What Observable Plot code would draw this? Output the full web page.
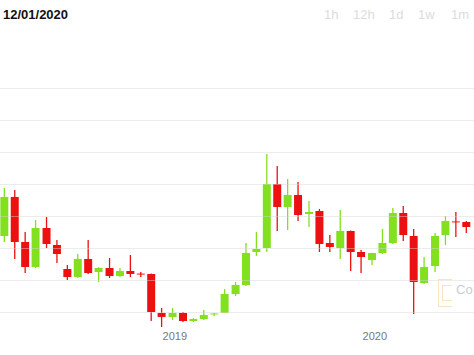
<!DOCTYPE html>
<html>
<head>
<meta charset="utf-8">
<script src="https://cdn.jsdelivr.net/npm/d3@7"></script>
<script src="https://cdn.jsdelivr.net/npm/@observablehq/plot@0.6"></script>
<style>
  html, body { margin: 0; padding: 0; background: #fff; }
  #wrap { position: relative; width: 474px; height: 355px; overflow: hidden; font-family: "Liberation Sans", Arial, sans-serif; }
  #header { position: relative; height: 30px; }
  #title { position: absolute; left: 3px; top: 7px; font-size: 13px; font-weight: bold; color: #111; line-height: 15px; }
  .tf { position: absolute; top: 7px; font-size: 13px; color: #dcdcdc; line-height: 15px; }
  #wm { position: absolute; left: 456px; top: 282px; font-size: 13px; color: #c9cdd3; line-height: 15px; white-space: nowrap; }
  #logo { position: absolute; left: 438px; top: 279px; width: 13px; height: 26px; border: 1px solid #f8e4c2; border-right: none; }
  #logo2 { position: absolute; left: 442px; top: 285px; width: 9px; height: 14px; border: 1px solid #f8e4c2; border-right: none; }
</style>
</head>
<body>
<div id="wrap">
  <div id="header">
    <div id="title">12/01/2020</div>
    <div class="tf" style="left:324px">1h</div>
    <div class="tf" style="left:353px">12h</div>
    <div class="tf" style="left:389px">1d</div>
    <div class="tf" style="left:418px">1w</div>
    <div class="tf" style="left:451px">1m</div>
  </div>
  <div id="chart"></div>
  <div id="logo"></div>
  <div id="logo2"></div>
  <div id="wm">Co</div>
</div>
<script>
const dates = [
  "2018-02-24","2018-03-15","2018-04-03","2018-04-22","2018-05-12","2018-05-31",
  "2018-06-19","2018-07-08","2018-07-27","2018-08-15","2018-09-04","2018-09-23",
  "2018-10-12","2018-10-31","2018-11-19","2018-12-08","2018-12-28","2019-01-16",
  "2019-02-04","2019-02-23","2019-03-14","2019-04-02","2019-04-22","2019-05-11",
  "2019-05-30","2019-06-18","2019-07-07","2019-07-26","2019-08-14","2019-09-03",
  "2019-09-22","2019-10-11","2019-10-30","2019-11-18","2019-12-07","2019-12-27",
  "2020-01-15","2020-02-03","2020-02-22","2020-03-12","2020-03-31","2020-04-20",
  "2020-05-09","2020-05-28","2020-06-16"
];
const open  = [8750,11190,8375,6812,9250,8187,6687,6187,7312,6500,6750,6250,6562,6400,6375,3940,3690,3940,3437,3560,3845,3940,5125,5687,7750,8000,12000,10562,11312,10125,10312,8312,8000,9062,7750,7250,7687,8312,10187,8750,5812,6875,8812,9660,9625];
const high  = [11750,11625,9000,9750,9937,8500,6937,7625,8500,6812,7375,6750,7562,6500,6400,4250,4250,4000,3625,4125,3940,5437,5875,8312,9000,13875,13125,12312,12125,10937,10437,8812,10375,9100,7875,7700,9187,10500,10625,9187,7437,8937,10000,10250,9687];
const low   = [8375,7312,6437,6750,8000,7062,6000,6125,6375,5875,6125,6187,6187,6187,3437,3062,3500,3375,3375,3500,3750,3940,5000,5625,7500,7750,9062,9125,9687,9312,7750,7750,7312,6562,6437,6937,7625,8250,8437,3875,5750,6500,8187,8687,8937];
const close = [11190,8375,6812,9250,8250,7625,6187,7312,6437,6750,6250,6562,6375,6340,4000,3690,3940,3437,3560,3810,3905,5125,5687,7687,7937,12000,10562,11312,10062,10250,8250,8062,9062,7750,7437,7687,8312,10187,8812,5875,6812,8750,9687,9600,9312];
const gridValues = [4000,6000,8000,10000,12000,14000,16000,18000];
const yearLabels = ["2019","2020"];

const candles = dates.map((d, i) => ({
  date: new Date(d), open: open[i], high: high[i], low: low[i], close: close[i]
}));
const colorOf = d => d.close >= d.open ? "#82e01f" : "#ec1010";

const chart = Plot.plot({
  width: 474,
  height: 325,
  marginLeft: 0,
  marginRight: 0,
  marginTop: 58,
  marginBottom: 43,
  style: { fontFamily: "Liberation Sans, Arial, sans-serif", fontSize: "11px", color: "#777", background: "#fff" },
  x: { type: "utc", domain: [new Date("2018-02-17"), new Date("2020-07-01")], axis: null },
  y: { domain: [4000, 18000], axis: null },
  marks: [
    Plot.ruleX(candles, { x: "date", y1: "low", y2: "high", stroke: colorOf, strokeWidth: 1.3 }),
    Plot.ruleX(candles, { x: "date", y1: "open", y2: "close", stroke: colorOf, strokeWidth: 8 }),
    Plot.gridY(gridValues, { stroke: "#d4d4d4", strokeOpacity: 0.45, strokeWidth: 1 }),
    Plot.axisX(yearLabels.map(y => new Date(y + "-01-01")), {
      tickSize: 0, tickPadding: 20, tickFormat: d => String(d.getUTCFullYear()), fill: "#777", fontSize: 11
    })
  ]
});
document.getElementById("chart").appendChild(chart);
</script>
</body>
</html>
